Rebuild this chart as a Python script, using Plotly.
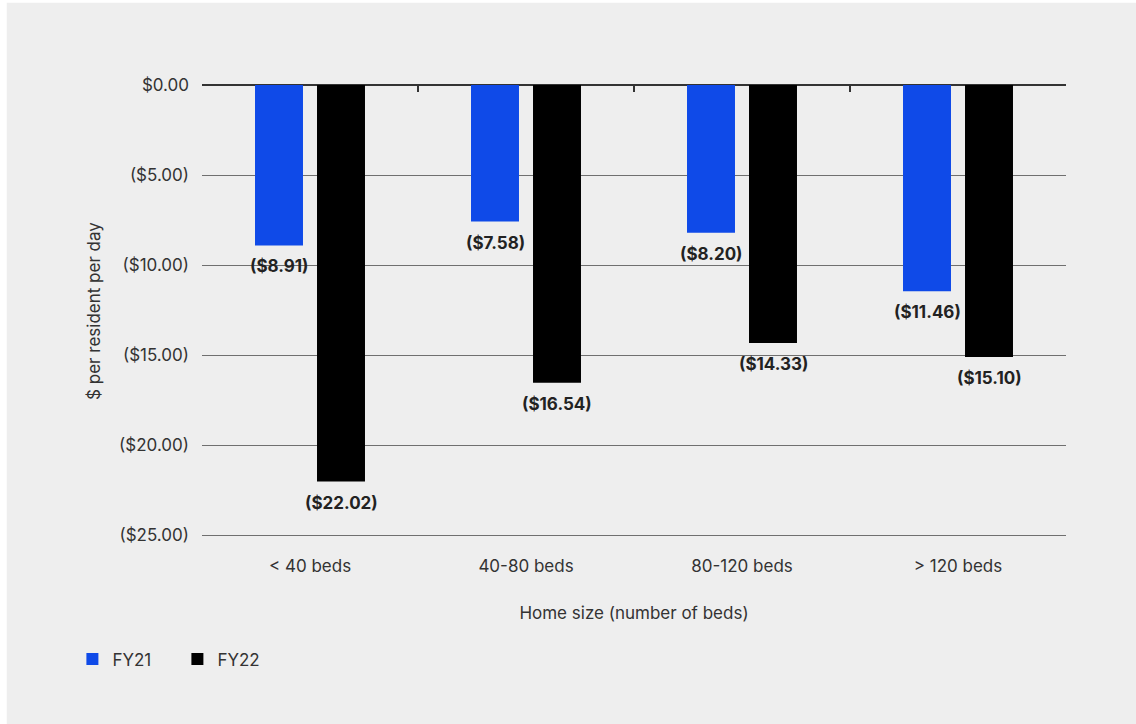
import plotly.graph_objects as go

# Home size categories and per-resident-per-day results
categories = ["< 40 beds", "40-80 beds", "80-120 beds", "> 120 beds"]
fy21 = [-8.91, -7.58, -8.20, -11.46]
fy22 = [-22.02, -16.54, -14.33, -15.10]
y_ticks = [0, -5, -10, -15, -20, -25]
y_tick_labels = ["$0.00", "($5.00)", "($10.00)", "($15.00)", "($20.00)", "($25.00)"]

FONT = "Inter, Roboto, Arial, sans-serif"
BG = "#eeeeee"
TXT = "#333333"


def money(v):
    return f"(${abs(v):.2f})" if v < 0 else f"${v:.2f}"


series = [("FY21", fy21, "#0f4ae8", -31), ("FY22", fy22, "#000000", 31)]

fig = go.Figure()
annotations = []
for name, vals, color, dx in series:
    fig.add_trace(go.Bar(name=name, x=categories, y=vals, marker_color=color,
                         marker_line_width=0))
    # value labels just below the end of each bar
    for cat, v in zip(categories, vals):
        annotations.append(dict(
            x=cat, y=v, xref="x", yref="y", text=money(v), showarrow=False,
            xanchor="center", yanchor="top", xshift=dx, yshift=-9,
            font=dict(family=FONT, size=17, color="#222222", weight="bold"),
        ))

# overlay axis that carries the category boundary ticks along the zero line
fig.add_trace(go.Scatter(x=categories, y=[0] * 4, xaxis="x2", mode="markers",
                         marker=dict(opacity=0), showlegend=False, hoverinfo="skip"))

fig.update_layout(
    width=1136, height=724,
    paper_bgcolor="white", plot_bgcolor=BG,
    margin=dict(l=202, r=70, t=85, b=187),
    font=dict(family=FONT, size=17, color=TXT),
    barmode="group", bargap=0.426, bargroupgap=0.226,
    showlegend=True,
    legend=dict(orientation="h", x=-0.150, y=-0.271, xanchor="left", yanchor="middle",
                font=dict(size=17, color=TXT), entrywidth=60, entrywidthmode="pixels",
                itemwidth=30, bgcolor="rgba(0,0,0,0)", traceorder="normal"),
    xaxis=dict(categoryorder="array", categoryarray=categories, range=[-0.5, 3.5],
               showgrid=False, showline=False, ticks="", zeroline=False,
               tickfont=dict(size=17, color=TXT), ticklabelstandoff=17,
               title=dict(text="Home size (number of beds)", standoff=32,
                          font=dict(size=17, color=TXT))),
    xaxis2=dict(overlaying="x", side="top", type="category", categoryorder="array",
                categoryarray=categories, range=[-0.5, 3.5], showticklabels=False,
                showgrid=False, showline=False, zeroline=False, ticks="inside",
                tickson="boundaries", ticklen=7, tickwidth=1.5, tickcolor=TXT),
    yaxis=dict(range=[-25.1, 0], tickvals=y_ticks, ticktext=y_tick_labels,
               showgrid=True, gridcolor="#6f6f6f", gridwidth=1,
               zeroline=True, zerolinecolor=TXT, zerolinewidth=1.5,
               showline=False, ticks="", ticklabelstandoff=12,
               tickfont=dict(size=17, color=TXT),
               title=dict(text="$ per resident per day", standoff=14,
                          font=dict(size=17, color=TXT))),
    annotations=annotations,
    shapes=[dict(type="rect", xref="paper", yref="paper", layer="below",
                 x0=-0.226, x1=1.081, y0=-0.42, y1=1.182,
                 fillcolor=BG, line_width=0)],
)

fig.write_html("out.html")
